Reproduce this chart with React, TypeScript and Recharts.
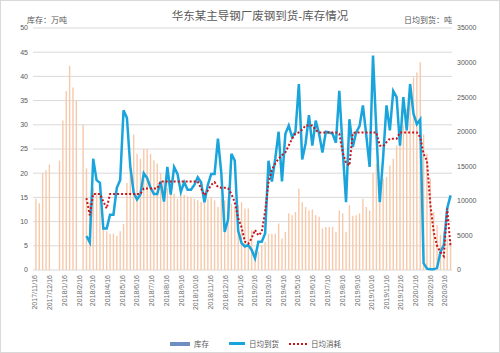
import { ComposedChart, Bar, Line, XAxis, YAxis, CartesianGrid } from 'recharts';

// weekly stock, 万吨 (null = no reading that week)
const inventory = [
  14.7, 13.8, 20, 20.6, 21.8, null, null, 22.6, 30.9, 37, 42.2, 37.7, 35, null, 30, 21,
  14, 17, 16, 15, 8.5, 8, 7.5, 7.5, 7, 8, 9.5, 18, 22.5, 28, 24, 23,
  25, 25, 24, 22.7, 22, 20, 18.5, 17, 16, 15.8, 14.7, 15.8, 15.5, 15.2, 15.1, 14.7,
  14.4, 14.1, 14.4, 14.7, 15.1, 14.4, 13, 14.7, 14.4, 14.7, 13.7, 13, 13.4, 14, 12.7, 12.7,
  8.2, 4.1, 3.8, 5.1, 5.8, 7.5, 7.5, 7.5, 9.6, 6.5, 7.9, 11.7, 11.3, 12, 16.8, 14,
  13, 12.3, 12.5, 11.3, 11, 8.6, 8.9, 8.9, 8.9, 7.9, 12.3, 11.7, 7.9, 13.4, 11.2, 11.3,
  11.7, 14.7, 13, 12.3, 20, 22, 14, 18.9, 19.2, 21.6, 23, 25.7, 28.5, 29.8, 33.3, 37.4,
  39.8, 40.8, 42.9, 28, 24, 18.9, 12, 9.3, 7.2, 7.9, 6.5, 6,
];

// 日均到货, 吨
const arrival = [
  null, null, null, null, null, null, null, null, null, null, null, null, null, null, null, 4900,
  4000, 16100, 13000, 12600, 6000, 6000, 8000, 8000, 11900, 13000, 23100, 22000, 15000, 11200, 10200, 10900,
  14000, 13300, 11900, 11000, 11000, 12800, 9900, 14900, 10900, 14900, 13900, 11300, 12700, 11600, 11600, 12300,
  13400, 12700, 9800, 12300, 13900, 13900, 19000, 14000, 5500, 7300, 16800, 15800, 5700, 3900, 3400, 3600,
  2900, 1700, 4100, 4100, 5300, 15800, 12800, 16100, 20000, 12800, 19700, 20900, 19200, 20000, 26900, 16000,
  18300, 22400, 18000, 21600, 19700, 17000, 20000, 19900, 19700, 18400, 25900, 17500, 9800, 21800, 17800, 19900,
  20800, 23800, 19500, 14900, 31000, 20000, 9800, 16300, 23800, 20200, 25900, 25000, 18000, 25000, 20200, 26900,
  22600, 21100, 21800, 1000, 200, 100, 100, 300, 2600, 3600, 8900, 10800,
];

// 日均消耗, 吨
const consumption = [
  null, null, null, null, null, null, null, null, null, null, null, null, null, null, null, 10400,
  7900, 11000, 11000, 11000, 9900, 8900, 11000, 11000, 11000, 11000, 11000, 11000, 11000, 11000, 11000, 11000,
  11800, 11800, 11800, 11800, 11800, 12800, 12800, 12800, 12800, 12800, 12800, 12800, 12800, 12800, 12800, 12800,
  12800, 11800, 10800, 11500, 12300, 12700, 12000, 11900, 11900, 11800, 11000, 9800, 7500, 6200, 4100, 3800,
  4600, 5800, 5000, 5500, 8500, 12700, 14500, 15400, 16100, 16600, 17000, 18000, 19000, 19700, 19900, 20300,
  20900, 20900, 20900, 20200, 19900, 19900, 19900, 19900, 19900, 19900, 19700, 17000, 15500, 15100, 19800, 19900,
  19900, 19900, 19900, 19900, 19900, 19900, 18000, 17900, 18500, 19000, 19000, 19000, 19900, 19900, 19900, 19900,
  19900, 19900, 19200, 16800, 15800, 9500, 5500, 3500, 2600, 2000, 8900, 3300,
];

const monthLabels = [
  '2017/11/16', '2017/12/16', '2018/1/16', '2018/2/16', '2018/3/16', '2018/4/16', '2018/5/16',
  '2018/6/16', '2018/7/16', '2018/8/16', '2018/9/16', '2018/10/16', '2018/11/16', '2018/12/16',
  '2019/1/16', '2019/2/16', '2019/3/16', '2019/4/16', '2019/5/16', '2019/6/16', '2019/7/16',
  '2019/8/16', '2019/9/16', '2019/10/16', '2019/11/16', '2019/12/16', '2020/1/16', '2020/2/16',
  '2020/3/16',
];

const leftTicks = [0, 5, 10, 15, 20, 25, 30, 35, 40, 45, 50];
const rightTicks = [0, 5000, 10000, 15000, 20000, 25000, 30000, 35000];

const DAY = 86400000;
const base = Date.UTC(2017, 10, 16);
const toDay = (s: string) => {
  const [y, m, d] = s.split('/').map(Number);
  return (Date.UTC(y, m - 1, d) - base) / DAY;
};
const monthTicks = monthLabels.map(toDay);

// first reading lands two days after the first label, then weekly
const rows = inventory.map((v, i) => ({
  day: 2 + i * 7,
  inventory: v,
  arrival: arrival[i],
  consumption: consumption[i],
}));

const FONT = '"Liberation Sans", "Noto Sans CJK SC", sans-serif';
const GREY = '#595959';

const DateTick = ({ x, y, payload }: any) => {
  const label = monthLabels[monthTicks.indexOf(payload.value)] ?? '';
  return (
    <text
      x={x}
      y={y}
      transform={`rotate(-90 ${x} ${y})`}
      textAnchor="end"
      dy="0.35em"
      fontSize={7}
      fill="#6b6b6b"
    >
      {label}
    </text>
  );
};

const legendText = { fontSize: 7.5, color: GREY, marginLeft: 4 };

export default function App() {
  return (
    <div
      style={{
        position: 'absolute',
        left: 0,
        top: 0,
        width: 500,
        height: 353,
        boxSizing: 'border-box',
        border: '1px solid #d9d9d9',
        background: '#fff',
        fontFamily: FONT,
      }}
    >
      <div style={{ position: 'absolute', left: -1, top: -1 }}>
        <ComposedChart
          width={500}
          height={353}
          data={rows}
          margin={{ top: 28, right: 0, bottom: 33, left: 0 }}
          style={{ fontFamily: FONT }}
        >
          <CartesianGrid yAxisId="left" vertical={false} stroke="#d9d9d9" />
          <XAxis
            dataKey="day"
            type="number"
            domain={[-4, 866]}
            ticks={monthTicks}
            interval={0}
            axisLine={false}
            tickLine={false}
            tickSize={0}
            tickMargin={5}
            height={50}
            tick={<DateTick />}
          />
          <YAxis
            yAxisId="left"
            domain={[0, 50]}
            ticks={leftTicks}
            axisLine={false}
            tickLine={false}
            tickSize={0}
            tickMargin={5}
            width={33}
            tick={{ fontSize: 7, fill: GREY }}
          />
          <YAxis
            yAxisId="right"
            orientation="right"
            domain={[0, 35000]}
            ticks={rightTicks}
            axisLine={false}
            tickLine={false}
            tickSize={0}
            tickMargin={5}
            width={48}
            tick={{ fontSize: 7, fill: GREY, textAnchor: 'start' }}
          />
          <Bar
            yAxisId="left"
            dataKey="inventory"
            fill="#f6c9aa"
            barSize={1.4}
            isAnimationActive={false}
          />
          <Line
            yAxisId="right"
            dataKey="arrival"
            type="linear"
            stroke="#1aa4dc"
            strokeWidth={2.5}
            dot={false}
            isAnimationActive={false}
          />
          <Line
            yAxisId="right"
            dataKey="consumption"
            type="linear"
            stroke="#c8161d"
            strokeWidth={2}
            strokeDasharray="2 2"
            dot={false}
            isAnimationActive={false}
          />
        </ComposedChart>
      </div>

      {/* title and axis captions */}
      <div
        style={{
          position: 'absolute',
          left: 0,
          width: 518,
          top: 6,
          textAlign: 'center',
          fontSize: 11.5,
          color: GREY,
        }}
      >
        华东某主导钢厂废钢到货-库存情况
      </div>
      <div style={{ position: 'absolute', left: 26, top: 13, fontSize: 8, color: GREY }}>
        库存：万吨
      </div>
      <div style={{ position: 'absolute', left: 403, top: 13, fontSize: 8, color: GREY }}>
        日均到货：吨
      </div>

      {/* legend */}
      <div
        style={{
          position: 'absolute',
          top: 337,
          left: 169,
          display: 'flex',
          alignItems: 'center',
          whiteSpace: 'nowrap',
        }}
      >
        <span style={{ display: 'inline-block', width: 20, height: 4, background: '#6f8fc2' }} />
        <span style={legendText}>库存</span>
        <span
          style={{ display: 'inline-block', width: 16, height: 2.5, background: '#1aa4dc', marginLeft: 20 }}
        />
        <span style={legendText}>日均到货</span>
        <span
          style={{
            display: 'inline-block',
            width: 18,
            height: 0,
            borderTop: '2px dotted #c8161d',
            marginLeft: 10,
          }}
        />
        <span style={legendText}>日均消耗</span>
      </div>
    </div>
  );
}
